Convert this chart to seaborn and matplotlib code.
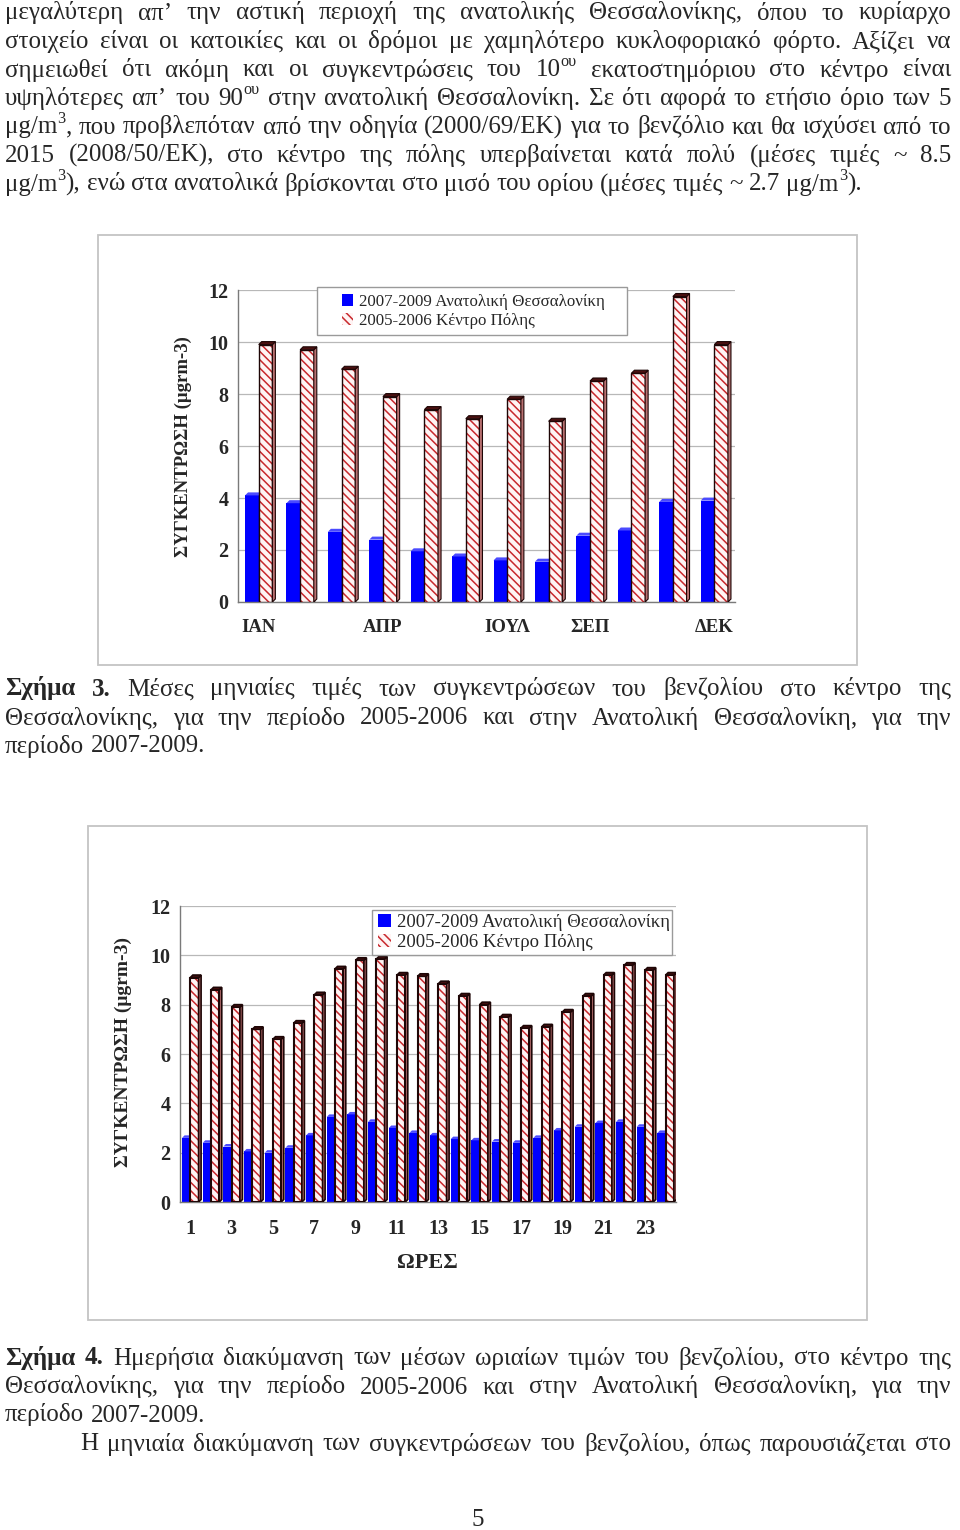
import re
import numpy as np
import pandas as pd
import matplotlib
matplotlib.use("Agg")
import matplotlib.pyplot as plt
import seaborn as sns
from matplotlib.patches import Patch, Rectangle, Polygon
from matplotlib.legend_handler import HandlerPatch
from matplotlib.transforms import IdentityTransform

# ---- data ----
series = ["2007-2009 Ανατολική Θεσσαλονίκη", "2005-2006 Κέντρο Πόλης"]

months = ["ΙΑΝ", "ΦΕΒ", "ΜΑΡ", "ΑΠΡ", "ΜΑΪ", "ΙΟΥΝ", "ΙΟΥΛ", "ΑΥΓ", "ΣΕΠ", "ΟΚΤ", "ΝΟΕ", "ΔΕΚ"]
months_labelled = ["ΙΑΝ", "ΑΠΡ", "ΙΟΥΛ", "ΣΕΠ", "ΔΕΚ"]
east_month = [4.1, 3.8, 2.7, 2.4, 1.95, 1.75, 1.6, 1.55, 2.55, 2.75, 3.85, 3.9]
centre_month = [9.9, 9.7, 8.95, 7.9, 7.4, 7.05, 7.8, 6.95, 8.5, 8.8, 11.75, 9.9]

hours = [str(h) for h in range(1, 25)]
east_hour = [2.6, 2.4, 2.25, 2.05, 2.0, 2.2, 2.7, 3.45, 3.55, 3.25, 3.0, 2.8,
             2.7, 2.55, 2.5, 2.45, 2.4, 2.6, 2.9, 3.05, 3.2, 3.25, 3.05, 2.8]
centre_hour = [9.1, 8.6, 7.9, 7.0, 6.6, 7.25, 8.4, 9.45, 9.8, 9.85, 9.2, 9.15,
               8.85, 8.35, 8.0, 7.5, 7.05, 7.1, 7.7, 8.35, 9.2, 9.6, 9.4, 9.2]

ylabel = "ΣΥΓΚΕΝΤΡΩΣΗ (μgrm-3)"
xlabel_hours = "ΩΡΕΣ"

# ---- page text (one entry per printed line) ----
para_top = [
    "μεγαλύτερη απ’ την αστική περιοχή της ανατολικής Θεσσαλονίκης, όπου το κυρίαρχο",
    "στοιχείο είναι οι κατοικίες και οι δρόμοι με χαμηλότερο κυκλοφοριακό φόρτο. Αξίζει να",
    "σημειωθεί ότι ακόμη και οι συγκεντρώσεις του 10^{ου} εκατοστημόριου στο κέντρο είναι",
    "υψηλότερες απ’ του 90^{ου} στην ανατολική Θεσσαλονίκη. Σε ότι αφορά το ετήσιο όριο των 5",
    "μg/m^{3}, που προβλεπόταν από την οδηγία (2000/69/ΕΚ) για το βενζόλιο και θα ισχύσει από το",
    "2015 (2008/50/ΕΚ), στο κέντρο της πόλης υπερβαίνεται κατά πολύ (μέσες τιμές ~ 8.5",
    "μg/m^{3}), ενώ στα ανατολικά βρίσκονται στο μισό του ορίου (μέσες τιμές ~ 2.7 μg/m^{3}).",
]
caption3 = [
    "!Σχήμα !3. Μέσες μηνιαίες τιμές των συγκεντρώσεων του βενζολίου στο κέντρο της",
    "Θεσσαλονίκης, για την περίοδο 2005-2006 και στην Ανατολική Θεσσαλονίκη, για την",
    "περίοδο 2007-2009.",
]
caption4 = [
    "!Σχήμα !4. Ημερήσια διακύμανση των μέσων ωριαίων τιμών του βενζολίου, στο κέντρο της",
    "Θεσσαλονίκης, για την περίοδο 2005-2006 και στην Ανατολική Θεσσαλονίκη, για την",
    "περίοδο 2007-2009.",
]
para_bottom = "Η μηνιαία διακύμανση των συγκεντρώσεων του βενζολίου, όπως παρουσιάζεται στο"
page_no = "5"

W, H = 960, 1530
SERIF = ["Liberation Serif", "DejaVu Serif"]
BLUE = "#0000ff"
RED = "#c8282d"
BODY = 18

sns.set_style("white")
plt.rcParams["font.family"] = SERIF
plt.rcParams["hatch.linewidth"] = 1.1

fig = plt.figure(figsize=(W / 100, H / 100), dpi=100)
renderer = fig.canvas.get_renderer()


def put_line(line, y, x0=5, x1=951, justify=True, size=BODY):
    # y is the centre of the printed line, in page pixels from the top
    words = []
    for w in line.split():
        bold = w.startswith("!")
        if bold:
            w = w[1:]
        arts = []
        for part in re.split(r"(\^\{[^}]*\})", w):
            if not part:
                continue
            sup = part.startswith("^{")
            s = part[2:-1] if sup else part
            t = fig.text(0, 0, s, transform=IdentityTransform(), family=SERIF,
                         fontsize=size * 0.65 if sup else size,
                         fontweight="bold" if bold else "normal",
                         ha="left", va="baseline")
            arts.append((t, sup, t.get_window_extent(renderer).width))
        words.append(arts)
    widths = [sum(a[2] for a in arts) for arts in words]
    space = size * 100 / 72 * 0.25
    if justify and len(words) > 1:
        space = (x1 - x0 - sum(widths)) / (len(words) - 1)
    x = x0
    yb = H - y - size * 100 / 72 * 0.3
    for arts in words:
        for t, sup, w in arts:
            t.set_position((x, yb + (size * 100 / 72 * 0.42 if sup else 0)))
            x += w
        x += space


def frame(x0, y0, x1, y1):
    fig.add_artist(Rectangle((x0 / W, 1 - y1 / H), (x1 - x0) / W, (y1 - y0) / H,
                             transform=fig.transFigure, fill=False,
                             edgecolor="#c4c4c4", lw=1.3))


def bar_chart(ax, cats, east, centre, width, depth_px, outline):
    n = len(cats)
    df = pd.DataFrame({"cat": cats * 2, "value": east + centre,
                       "series": [series[0]] * n + [series[1]] * n})
    sns.barplot(data=df, x="cat", y="value", hue="series", order=cats,
                hue_order=series, palette=[BLUE, "white"], width=width,
                saturation=1, errorbar=None, legend=False, ax=ax)
    ax.set_ylim(0, 12)
    ax.set_xlim(-0.5, n - 0.5)
    # depth of the fake 3-D faces, converted from pixels to data units
    inv = ax.transData.inverted()
    p0 = inv.transform((0, 0))
    p1 = inv.transform((depth_px, depth_px))
    dx, dy = p1 - p0
    blue_bars, red_bars = ax.containers[0], ax.containers[1]
    for p in blue_bars:
        p.set_edgecolor(BLUE)
        p.set_linewidth(0)
        p.set_zorder(2)
        x, w, h = p.get_x(), p.get_width(), p.get_height()
        ax.add_patch(Polygon([(x + w, 0), (x + w + dx, dy), (x + w + dx, h + dy), (x + w, h)],
                             closed=True, facecolor="#00009a", lw=0, zorder=2.1))
        ax.add_patch(Polygon([(x, h), (x + dx, h + dy), (x + w + dx, h + dy), (x + w, h)],
                             closed=True, facecolor="#4a4aff", lw=0, zorder=2.1))
    for p in red_bars:
        p.set_facecolor("#fff4f4")
        p.set_edgecolor(RED)
        p.set_hatch("\\\\\\\\")
        p.set_linewidth(0)
        p.set_zorder(3)
        x, w, h = p.get_x(), p.get_width(), p.get_height()
        ax.add_patch(Rectangle((x, 0), w, h, fill=False, edgecolor="#1e0606",
                               lw=outline, zorder=3.1))
        ax.add_patch(Polygon([(x + w, 0), (x + w + dx, dy), (x + w + dx, h + dy), (x + w, h)],
                             closed=True, facecolor="#b87070", edgecolor="#1e0606",
                             lw=outline * 0.8, zorder=3.2))
        ax.add_patch(Polygon([(x, h), (x + dx, h + dy), (x + w + dx, h + dy), (x + w, h)],
                             closed=True, facecolor="#4a1010", edgecolor="#1e0606",
                             lw=outline * 0.8, zorder=3.2))
    ax.set_yticks(np.arange(0, 13, 2))
    ax.yaxis.grid(True, color="#b8b8b8", lw=0.9)
    ax.set_axisbelow(True)
    for s in ["top", "right"]:
        ax.spines[s].set_visible(False)
    for s in ["left", "bottom"]:
        ax.spines[s].set_color("#7a7a7a")
        ax.spines[s].set_linewidth(1.0)
    ax.set_xticks(np.arange(-0.5, n, 1), minor=True)
    ax.tick_params(axis="x", which="major", length=0)
    ax.tick_params(axis="x", which="minor", length=4, color="#9a9a9a", direction="out")
    ax.tick_params(axis="y", length=4, color="#7a7a7a", direction="out", pad=3)
    for lab in ax.get_yticklabels():
        lab.set_fontweight("bold")
        lab.set_fontsize(14.5)


def square_at_right(legend, orig_handle, xdescent, ydescent, width, height, fontsize):
    # legend key drawn as a small square at the right end of the handle box
    side = height * 0.95
    return Rectangle((-xdescent + width - side, -ydescent + (height - side) / 2), side, side)


def add_legend(ax, anchor, size, pad, hlen):
    handles = [Patch(facecolor=BLUE, edgecolor=BLUE, lw=0),
               Patch(facecolor="#fff4f4", edgecolor=RED, hatch="\\\\\\\\", lw=0)]
    handler = HandlerPatch(patch_func=square_at_right)
    leg = ax.legend(handles, series, loc="upper left", bbox_to_anchor=anchor,
                    mode="expand", borderaxespad=0, frameon=True, fancybox=False,
                    framealpha=1, edgecolor="#9a9a9a",
                    prop={"family": SERIF, "size": size},
                    handler_map={Patch: handler},
                    handlelength=hlen, handleheight=0.75, handletextpad=0.35,
                    labelspacing=0.15, borderpad=pad)
    leg.get_frame().set_linewidth(1.0)


# ---- figure 3: monthly means ----
frame(98, 235, 857, 665)
ax1 = fig.add_axes([238 / W, 1 - 602 / H, (735 - 238) / W, (602 - 290) / H])
bar_chart(ax1, months, east_month, centre_month, 0.66, 3, 1.0)
ax1.set_xticks(range(len(months)))
ax1.set_xticklabels([m if m in months_labelled else "" for m in months],
                    fontweight="bold", fontsize=13.5)
ax1.tick_params(axis="x", which="major", pad=12)
ax1.set_xlabel("")
ax1.set_ylabel(ylabel, fontweight="bold", fontsize=13.5, va="center")
ax1.yaxis.set_label_coords((183 - 238) / (735 - 238), (602 - 447) / (602 - 290))
add_legend(ax1, ((317 - 238) / (735 - 238), (602 - 287) / (602 - 290),
                 (627 - 317) / (735 - 238), 0), 12.2, 0.4, 1.75)

# ---- figure 4: hourly means ----
frame(88, 826, 867, 1320)
ax2 = fig.add_axes([180 / W, 1 - 1202 / H, (676 - 180) / W, (1202 - 906) / H])
bar_chart(ax2, hours, east_hour, centre_hour, 0.8, 2.5, 1.5)
ax2.set_xticks(range(len(hours)))
ax2.set_xticklabels([h if int(h) % 2 == 1 else "" for h in hours],
                    fontweight="bold", fontsize=14.5)
ax2.tick_params(axis="x", which="major", pad=12)
ax2.set_xlabel(xlabel_hours, fontweight="bold", fontsize=16, va="center")
ax2.xaxis.set_label_coords((427 - 180) / (676 - 180), (1202 - 1263) / (1202 - 906))
ax2.set_ylabel(ylabel, fontweight="bold", fontsize=14, va="center")
ax2.yaxis.set_label_coords((123 - 180) / (676 - 180), (1202 - 1052) / (1202 - 906))
add_legend(ax2, ((372 - 180) / (676 - 180), (1202 - 910) / (1202 - 906),
                 (672 - 372) / (676 - 180), 0), 13.5, 0.2, 0.8)

# ---- body text ----
line_y = [12, 40.5, 69, 97.5, 126, 154.5, 183]
for i, (line, y) in enumerate(zip(para_top, line_y)):
    put_line(line, y, justify=i < len(para_top) - 1)
for i, (line, y) in enumerate(zip(caption3, [688, 717, 745])):
    put_line(line, y, justify=i < 2)
for i, (line, y) in enumerate(zip(caption4, [1357, 1386, 1414])):
    put_line(line, y, justify=i < 2)
put_line(para_bottom, 1443, x0=80, x1=951)
fig.text(478 / W, 1 - 1520 / H, page_no, family=SERIF, fontsize=BODY,
         ha="center", va="center")

fig.savefig("out.png", dpi=100)
